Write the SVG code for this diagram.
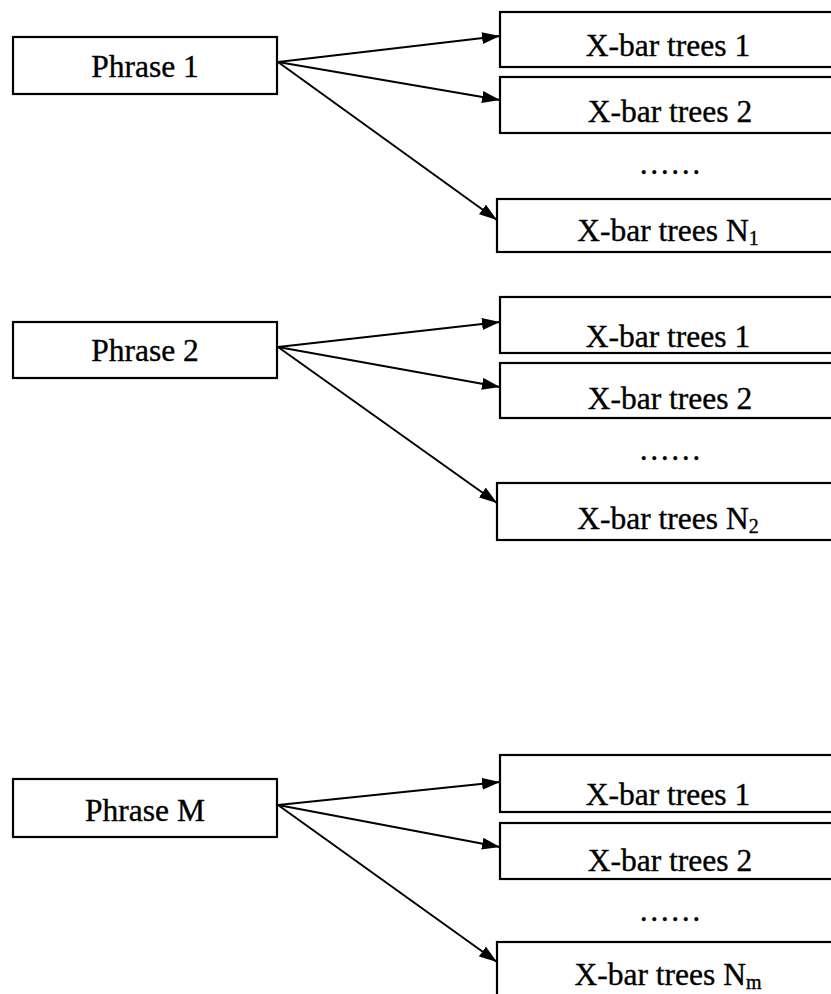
<svg xmlns="http://www.w3.org/2000/svg" width="831" height="994" viewBox="0 0 831 994">
<style>
.box{fill:#fff;stroke:#000;stroke-width:2.2}
.t{font-family:"Liberation Serif","Times New Roman",serif;font-size:31.5px;fill:#000;stroke:#000;stroke-width:0.35;text-anchor:middle}
.sub{font-size:20px}
.c{stroke:#000;stroke-width:2;fill:none;marker-end:url(#ah)}
</style>
<defs>
<marker id="ah" viewBox="0 0 18 12" refX="18" refY="6" markerWidth="18" markerHeight="12" markerUnits="userSpaceOnUse" orient="auto">
<path d="M0,0 L18,6 L0,12 Z" fill="#000"/>
</marker>
</defs>
<rect width="831" height="994" fill="#fff"/>
<g id="connectors">
<line class="c" x1="278" y1="62" x2="500" y2="36"/>
<line class="c" x1="278" y1="62" x2="500" y2="100"/>
<line class="c" x1="278" y1="62" x2="497" y2="220"/>
<line class="c" x1="278" y1="347" x2="500" y2="322"/>
<line class="c" x1="278" y1="347" x2="500" y2="387"/>
<line class="c" x1="278" y1="347" x2="497" y2="503"/>
<line class="c" x1="278" y1="805" x2="500" y2="782"/>
<line class="c" x1="278" y1="805" x2="500" y2="847"/>
<line class="c" x1="278" y1="805" x2="497" y2="962"/>
</g>
<g id="phrase1"><rect class="box" x="13" y="37" width="264" height="57"/><text class="t" x="145" y="77">Phrase 1</text></g>
<g id="g1-x1"><rect class="box" x="500" y="12" width="340" height="55"/><text class="t" x="668" y="56">X-bar trees 1</text></g>
<g id="g1-x2"><rect class="box" x="500" y="77" width="340" height="56"/><text class="t" x="670" y="122">X-bar trees 2</text></g>
<g id="g1-dots"><text class="t" x="670" y="174">……</text></g>
<g id="g1-xn"><rect class="box" x="497" y="199" width="343" height="53"/><text class="t" x="668" y="241">X-bar trees N<tspan class="sub" dy="4">1</tspan></text></g>

<g id="phrase2"><rect class="box" x="13" y="322" width="264" height="56"/><text class="t" x="145" y="361">Phrase 2</text></g>
<g id="g2-x1"><rect class="box" x="500" y="297" width="340" height="56"/><text class="t" x="668" y="347">X-bar trees 1</text></g>
<g id="g2-x2"><rect class="box" x="500" y="363" width="340" height="55"/><text class="t" x="670" y="409">X-bar trees 2</text></g>
<g id="g2-dots"><text class="t" x="670" y="460">……</text></g>
<g id="g2-xn"><rect class="box" x="497" y="483" width="343" height="57"/><text class="t" x="668" y="529">X-bar trees N<tspan class="sub" dy="4">2</tspan></text></g>

<g id="phraseM"><rect class="box" x="13" y="779" width="264" height="58"/><text class="t" x="145" y="821">Phrase M</text></g>
<g id="gM-x1"><rect class="box" x="500" y="755" width="340" height="57"/><text class="t" x="668" y="805">X-bar trees 1</text></g>
<g id="gM-x2"><rect class="box" x="500" y="823" width="340" height="56"/><text class="t" x="670" y="871">X-bar trees 2</text></g>
<g id="gM-dots"><text class="t" x="670" y="921">……</text></g>
<g id="gM-xn"><rect class="box" x="497" y="942" width="343" height="70"/><text class="t" x="668" y="985">X-bar trees N<tspan class="sub" dy="4">m</tspan></text></g>
</svg>
